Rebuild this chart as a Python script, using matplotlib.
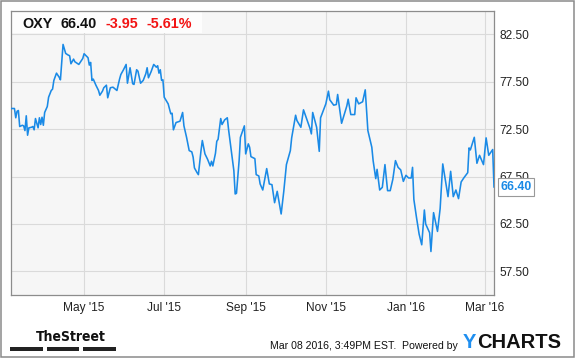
import matplotlib
matplotlib.use('Agg')
import matplotlib.pyplot as plt
import pandas as pd
from matplotlib import font_manager
from matplotlib.patches import Rectangle

# OXY daily close
dates = ['2015-03-06', '2015-03-09', '2015-03-10', '2015-03-11', '2015-03-12', '2015-03-13',
         '2015-03-15', '2015-03-16', '2015-03-17', '2015-03-18', '2015-03-19', '2015-03-20',
         '2015-03-22', '2015-03-23', '2015-03-24', '2015-03-25', '2015-03-27', '2015-03-28',
         '2015-03-29', '2015-03-30', '2015-03-31', '2015-04-01', '2015-04-03', '2015-04-04',
         '2015-04-06', '2015-04-07', '2015-04-08', '2015-04-10', '2015-04-12', '2015-04-13',
         '2015-04-15', '2015-04-17', '2015-04-19', '2015-04-20', '2015-04-21', '2015-04-23',
         '2015-04-24', '2015-04-27', '2015-04-30', '2015-05-01', '2015-05-04', '2015-05-05',
         '2015-05-06', '2015-05-07', '2015-05-08', '2015-05-10', '2015-05-12', '2015-05-13',
         '2015-05-15', '2015-05-16', '2015-05-18', '2015-05-19', '2015-05-21', '2015-05-23',
         '2015-05-26', '2015-05-28', '2015-05-29', '2015-05-31', '2015-06-02', '2015-06-03',
         '2015-06-05', '2015-06-07', '2015-06-08', '2015-06-10', '2015-06-11', '2015-06-13',
         '2015-06-15', '2015-06-17', '2015-06-18', '2015-06-19', '2015-06-21', '2015-06-23',
         '2015-06-25', '2015-06-26', '2015-06-27', '2015-06-28', '2015-06-29', '2015-06-30',
         '2015-07-01', '2015-07-04', '2015-07-06', '2015-07-07', '2015-07-08', '2015-07-10',
         '2015-07-13', '2015-07-15', '2015-07-16', '2015-07-18', '2015-07-20', '2015-07-22',
         '2015-07-23', '2015-07-24', '2015-07-26', '2015-07-27', '2015-07-29', '2015-07-30',
         '2015-08-01', '2015-08-03', '2015-08-05', '2015-08-06', '2015-08-07', '2015-08-09',
         '2015-08-10', '2015-08-11', '2015-08-13', '2015-08-14', '2015-08-16', '2015-08-18',
         '2015-08-19', '2015-08-21', '2015-08-23', '2015-08-24', '2015-08-25', '2015-08-27',
         '2015-08-28', '2015-08-31', '2015-09-01', '2015-09-03', '2015-09-04', '2015-09-05',
         '2015-09-08', '2015-09-09', '2015-09-11', '2015-09-12', '2015-09-14', '2015-09-17',
         '2015-09-19', '2015-09-21', '2015-09-23', '2015-09-25', '2015-09-28', '2015-09-30',
         '2015-10-02', '2015-10-05', '2015-10-06', '2015-10-09', '2015-10-10', '2015-10-13',
         '2015-10-15', '2015-10-20', '2015-10-21', '2015-10-22', '2015-10-25', '2015-10-27',
         '2015-10-28', '2015-11-01', '2015-11-03', '2015-11-04', '2015-11-07', '2015-11-09',
         '2015-11-10', '2015-11-13', '2015-11-17', '2015-11-18', '2015-11-20', '2015-11-23',
         '2015-11-24', '2015-11-26', '2015-11-29', '2015-12-01', '2015-12-03', '2015-12-06',
         '2015-12-07', '2015-12-09', '2015-12-10', '2015-12-12', '2015-12-14', '2015-12-16',
         '2015-12-18', '2015-12-20', '2015-12-22', '2015-12-24', '2015-12-26', '2015-12-28',
         '2015-12-30', '2016-01-01', '2016-01-03', '2016-01-05', '2016-01-06', '2016-01-07',
         '2016-01-09', '2016-01-11', '2016-01-13', '2016-01-15', '2016-01-16', '2016-01-19',
         '2016-01-20', '2016-01-22', '2016-01-25', '2016-01-27', '2016-01-29', '2016-02-02',
         '2016-02-04', '2016-02-06', '2016-02-08', '2016-02-10', '2016-02-12', '2016-02-14',
         '2016-02-17', '2016-02-18', '2016-02-19', '2016-02-22', '2016-02-24', '2016-02-26',
         '2016-02-29', '2016-03-02', '2016-03-04', '2016-03-07', '2016-03-08']
prices = [74.68, 74.68, 73.70, 74.39, 74.47, 72.78,
          72.91, 72.85, 72.35, 73.91, 71.86, 72.64,
          72.70, 72.78, 72.43, 73.62, 72.64, 73.70,
          72.99, 73.76, 72.91, 74.26, 74.89, 75.87,
          76.58, 76.72, 77.64, 78.41, 77.99, 77.71,
          81.44, 80.49, 80.31, 80.25, 79.40, 79.89,
          79.61, 79.33, 79.96, 80.46, 80.04, 79.26,
          79.54, 77.64, 77.78, 77.14, 76.58, 76.08,
          76.51, 76.87, 77.14, 75.81, 76.87, 76.93,
          76.58, 77.78, 78.27, 78.77, 79.33, 77.35,
          78.98, 77.29, 77.22, 78.77, 78.62, 77.35,
          77.64, 78.35, 78.98, 77.92, 78.56, 79.33,
          79.04, 79.19, 78.41, 78.77, 77.64, 77.71,
          75.87, 75.17, 74.12, 74.18, 72.43, 73.20,
          73.34, 74.26, 72.85, 71.64, 70.24, 70.10,
          69.55, 68.41, 67.91, 67.70, 70.24, 71.30,
          69.89, 69.32, 68.62, 69.11, 68.62, 69.95,
          71.22, 71.43, 73.62, 72.99, 73.48, 73.70,
          72.43, 70.24, 68.12, 65.66, 65.73, 69.18,
          71.64, 72.85, 69.89, 70.95, 70.59, 69.60,
          69.39, 67.70, 67.56, 66.72, 66.08, 68.34,
          66.72, 66.64, 64.74, 65.94, 63.55, 65.94,
          68.76, 70.24, 71.58, 73.97, 73.41, 72.70,
          74.54, 72.56, 72.00, 74.26, 72.70, 70.16,
          73.70, 75.17, 76.51, 75.60, 75.03, 75.10,
          76.16, 73.12, 74.96, 75.66, 74.04, 74.04,
          75.81, 75.17, 75.39, 76.65, 72.35, 70.59,
          69.18, 67.28, 68.26, 66.08, 66.36, 68.76,
          66.01, 66.01, 67.21, 69.18, 68.47, 68.20,
          66.99, 67.63, 67.35, 67.35, 68.47, 65.09,
          63.19, 61.43, 60.30, 63.97, 62.49, 61.57,
          59.59, 63.69, 61.71, 64.11, 68.83, 65.38,
          68.05, 65.38, 66.08, 65.17, 66.93, 67.35,
          67.91, 70.52, 70.31, 71.64, 68.90, 69.74,
          68.76, 71.58, 69.74, 70.35, 66.40]

xtick_dates = ['2015-05-01', '2015-07-01', '2015-09-01', '2015-11-01', '2016-01-01', '2016-03-01']
xtick_labels = ["May '15", "Jul '15", "Sep '15", "Nov '15", "Jan '16", "Mar '16"]
ytick_values = [57.5, 62.5, 67.5, 72.5, 77.5, 82.5]

ticker = 'OXY'
last_price = '66.40'
change = '-3.95'
change_pct = '-5.61%'
timestamp = 'Mar 08 2016, 3:49PM EST.  Powered by'

blue = '#1a8ae6'
red = '#f21313'
W, H = 575.0, 358.0


def px(x, y):
    return x / W, 1 - y / H


plt.rcParams['font.family'] = ['Liberation Sans', 'DejaVu Sans']
fig = plt.figure(figsize=(5.75, 3.58), dpi=100)
fig.patch.set_facecolor('white')

ax = fig.add_axes([10.5 / W, 1 - 295 / H, (494 - 10.5) / W, (295 - 10.7) / H])
ax.set_facecolor('#f6f6f6')
x = pd.to_datetime(dates)
ax.plot(x, prices, color=blue, lw=1.15, zorder=3)
ax.set_xlim(x[0], x[-1])
ax.set_ylim(55, 85)

ax.set_xticks(pd.to_datetime(xtick_dates))
ax.set_xticklabels(xtick_labels)
ax.set_yticks(ytick_values)
ax.set_yticklabels(['%.2f' % v for v in ytick_values])
ax.yaxis.tick_right()
ax.tick_params(axis='both', length=0, labelsize=8.6, colors='#222222')
ax.tick_params(axis='x', pad=5)
ax.tick_params(axis='y', pad=3.6)
ax.grid(True, color='#dadada', lw=0.8, zorder=0)
ax.set_axisbelow(True)
for s in ax.spines.values():
    s.set_color('#8c8c8c')
    s.set_linewidth(0.9)

# header box
ax.add_patch(Rectangle((0, 1 - (33 - 10.7) / (295 - 10.7)), (202 - 10.5) / (494 - 10.5),
                       (33 - 10.7) / (295 - 10.7), transform=ax.transAxes,
                       facecolor='#fdfdfd', edgecolor='none', zorder=2))
hy = px(0, 28.5)[1]
fig.text(px(22, 0)[0], hy, ticker, fontsize=10.4, fontweight='bold', color='#111111', va='baseline')
fig.text(px(60.7, 0)[0], hy, last_price, fontsize=10.4, fontweight='bold', color='#111111', va='baseline')
fig.text(px(105.7, 0)[0], hy, change, fontsize=10.4, fontweight='bold', color=red, va='baseline')
fig.text(px(146.7, 0)[0], hy, change_pct, fontsize=10.4, fontweight='bold', color=red, va='baseline')

# last value marker
ax.annotate(last_price, xy=(1, prices[-1]), xycoords=('axes fraction', 'data'),
            xytext=(4.5, 0), textcoords='offset points', ha='left', va='center',
            fontsize=8.8, fontweight='bold', color=blue, annotation_clip=False,
            bbox=dict(boxstyle='square,pad=0.22', fc='white', ec='#999999', lw=0.8), zorder=5)

# footer
names = {(f.name, f.stretch) for f in font_manager.fontManager.ttflist}
if any(n == 'Liberation Sans Narrow' for n, st in names):
    street = dict(family=['Liberation Sans Narrow', 'DejaVu Sans'], fontsize=11.5)
elif ('DejaVu Sans', 'condensed') in names:
    street = dict(family=['DejaVu Sans'], fontstretch='condensed', fontsize=10)
else:
    street = dict(family=['Liberation Sans', 'DejaVu Sans'], fontsize=9.6)
fig.text(px(36, 0)[0], px(0, 341.3)[1], 'TheStreet', fontweight='bold', color='#111111',
         va='baseline', **street)
for x0, x1 in [(10.3, 42.7), (46.7, 79.3), (83.3, 115.7)]:
    fig.add_artist(Rectangle(px(x0, 350.7), (x1 - x0) / W, 3.4 / H, transform=fig.transFigure,
                             facecolor='#222222', edgecolor='none'))
fig.text(px(270, 0)[0], px(0, 348.7)[1], timestamp, fontsize=7.6, color='#111111', va='baseline')
fig.text(px(463, 0)[0], px(0, 348.3)[1], 'Y', fontsize=14.5, fontweight='bold', color='#1f8ff0',
         va='baseline')
fig.text(px(477, 0)[0], px(0, 348.3)[1], 'CHARTS', fontsize=14.5, fontweight='bold',
         color='#111111', va='baseline')

# outer frame
fig.add_artist(Rectangle((0.8 / W, 0.8 / H), 1 - 1.6 / W, 1 - 1.6 / H, transform=fig.transFigure,
                         facecolor='none', edgecolor='#8a8a8a', lw=1.1))

plt.savefig('out.png', dpi=100)
